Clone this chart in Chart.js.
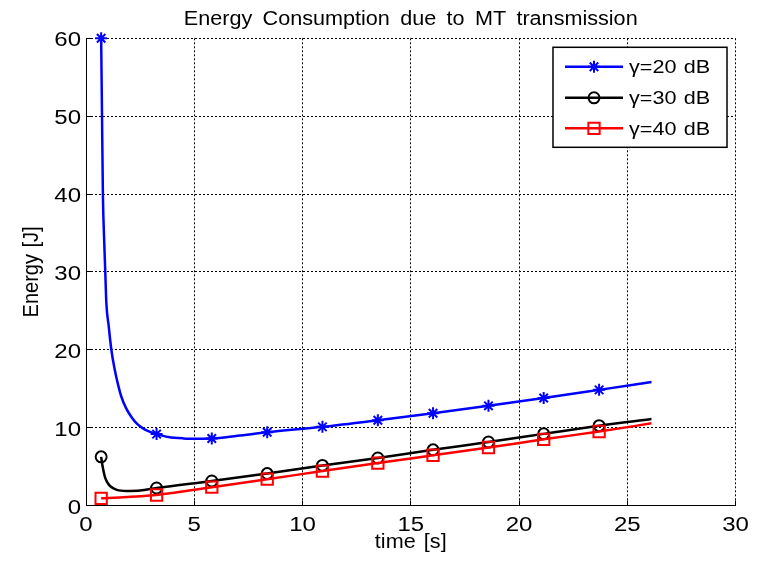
<!DOCTYPE html>
<html>
<head>
<meta charset="utf-8">
<title>Energy Consumption due to MT transmission</title>
<script src="https://cdn.jsdelivr.net/npm/chart.js@4/dist/chart.umd.min.js"></script>
<style>
  html, body { margin: 0; padding: 0; background: #ffffff; }
  canvas { display: block; }
</style>
</head>
<body>
<canvas id="energyChart" width="760" height="563"></canvas>
<script>
// ---- chart text ----
const chartTitle = 'Energy Consumption due to MT transmission';
const xAxisLabel = 'time [s]';
const yAxisLabel = 'Energy [J]';
const xTickValues = [0, 5, 10, 15, 20, 25, 30];
const yTickValues = [0, 10, 20, 30, 40, 50, 60];
const seriesNames = ['\u03B3=20 dB', '\u03B3=30 dB', '\u03B3=40 dB'];

// ---- sample times that carry a marker ----
const markerTimes = [0.70, 3.26, 5.81, 8.37, 10.92, 13.48, 16.03, 18.59, 21.14, 23.70];

// ---- gamma = 20 dB ----
const time20 = [0.70, 0.72, 0.74, 0.78, 0.84, 0.89, 0.94, 1.05, 1.17, 1.33, 1.50, 1.63, 1.85, 2.09, 2.35, 2.63, 2.96, 3.26, 3.80, 4.50, 5.20, 5.81, 7.00, 8.37, 10.92, 13.48, 16.03, 18.59, 21.14, 23.70, 26.12];
const energy20 = [60.0, 55.0, 50.0, 40.0, 34.0, 30.0, 26.0, 23.0, 20.0, 17.4, 15.3, 14.0, 12.5, 11.4, 10.5, 9.9, 9.45, 9.17, 8.8, 8.62, 8.58, 8.6, 8.95, 9.4, 10.1, 10.95, 11.85, 12.8, 13.8, 14.85, 15.85];

// ---- gamma = 30 dB ----
const time30 = [0.70, 0.75, 0.80, 0.88, 1.00, 1.11, 1.42, 1.88, 2.50, 3.26, 5.81, 8.37, 10.92, 13.48, 16.03, 18.59, 21.14, 23.70, 26.12];
const energy30 = [6.25, 5.3, 4.55, 3.6, 2.9, 2.5, 2.0, 1.86, 1.92, 2.25, 3.15, 4.1, 5.15, 6.1, 7.15, 8.15, 9.2, 10.25, 11.1];

// ---- gamma = 40 dB ----
const time40 = [0.70, 3.26, 5.81, 8.37, 10.92, 13.48, 16.03, 18.59, 21.14, 23.70, 26.12];
const energy40 = [0.92, 1.35, 2.35, 3.38, 4.42, 5.45, 6.45, 7.45, 8.5, 9.5, 10.55];

const FONT = "'Liberation Sans', Arial, Helvetica, sans-serif";

function toPoints(xs, ys) {
  return xs.map((t, i) => ({ x: t, y: ys[i] }));
}

function markerRadius(size) {
  return (c) => (c.raw && markerTimes.includes(c.raw.x)) ? size : 0;
}

// text helper: optional horizontal widening, spacing and rotation
function drawText(ctx, str, x, y, o) {
  ctx.save();
  ctx.font = o.font;
  ctx.fillStyle = '#000000';
  ctx.textAlign = o.align || 'left';
  ctx.textBaseline = o.baseline || 'alphabetic';
  if ('wordSpacing' in ctx) ctx.wordSpacing = (o.wordSpacing || 0) + 'px';
  if ('letterSpacing' in ctx) ctx.letterSpacing = (o.letterSpacing || 0) + 'px';
  ctx.translate(x, y);
  if (o.rotate) ctx.rotate(o.rotate);
  if (o.rotate) ctx.scale(1, o.sx || 1); else ctx.scale(o.sx || 1, 1);
  ctx.fillText(str, 0, 0);
  ctx.restore();
}

function alignPx(p) { return Math.round(p - 0.5) + 0.5; }

const seriesStyles = [
  { color: '#0000ff', pointStyle: 'star',   radius: 6   },
  { color: '#000000', pointStyle: 'circle', radius: 5.5 },
  { color: '#ff0000', pointStyle: 'rect',   radius: 8   }
];

function drawMarker(ctx, style, x, y) {
  ctx.save();
  ctx.strokeStyle = style.color;
  ctx.fillStyle = style.pointStyle === 'star' ? style.color : 'rgba(0,0,0,0)';
  ctx.lineWidth = 2;
  if (Chart.helpers && Chart.helpers.drawPoint) {
    Chart.helpers.drawPoint(ctx, { pointStyle: style.pointStyle, radius: style.radius, borderWidth: 2, rotation: 0 }, x, y);
  }
  ctx.restore();
}

const axesDecor = {
  id: 'axesDecor',
  afterDraw(chart) {
    const { ctx, chartArea: a, scales: { x, y } } = chart;

    // inward tick marks on the left and bottom axes
    ctx.save();
    ctx.strokeStyle = '#000000';
    ctx.lineWidth = 1;
    ctx.beginPath();
    xTickValues.forEach(v => {
      const px = alignPx(x.getPixelForValue(v));
      ctx.moveTo(px, a.bottom);
      ctx.lineTo(px, a.bottom - 5);
    });
    yTickValues.forEach(v => {
      const py = alignPx(y.getPixelForValue(v));
      ctx.moveTo(a.left, py);
      ctx.lineTo(a.left + 5, py);
    });
    ctx.stroke();
    ctx.restore();

    // tick labels
    const tickFont = '20px ' + FONT;
    xTickValues.forEach(v => {
      drawText(ctx, String(v), x.getPixelForValue(v), a.bottom + 25.5,
        { font: tickFont, align: 'center', baseline: 'alphabetic', sx: 1.2 });
    });
    yTickValues.forEach(v => {
      drawText(ctx, String(v), a.left - 5, y.getPixelForValue(v) + 2.5,
        { font: tickFont, align: 'right', baseline: 'middle', sx: 1.2 });
    });

    // axis titles
    const cx = (a.left + a.right) / 2;
    const cy = (a.top + a.bottom) / 2;
    drawText(ctx, xAxisLabel, cx, 548, { font: '20px ' + FONT, align: 'center', sx: 1.08, wordSpacing: 2 });
    drawText(ctx, yAxisLabel, 31.5, cy, { font: '20px ' + FONT, align: 'center', baseline: 'middle', rotate: -Math.PI / 2, sx: 1.1, wordSpacing: 1 });

    // chart title
    drawText(ctx, chartTitle, cx, 24.5, { font: '20px ' + FONT, align: 'center', sx: 1.08, wordSpacing: 4 });

    // legend box inside the plot area, top right
    const bw = 174, bh = 100;
    const bx = a.right - 8.5 - bw, by = a.top + 9;
    ctx.save();
    ctx.fillStyle = '#ffffff';
    ctx.fillRect(bx, by, bw, bh);
    ctx.strokeStyle = '#000000';
    ctx.lineWidth = 1.5;
    ctx.strokeRect(bx, by, bw, bh);
    ctx.restore();
    const rowOffsets = [19.5, 50.5, 81];
    seriesNames.forEach((name, i) => {
      const st = seriesStyles[i];
      const ry = by + rowOffsets[i];
      ctx.save();
      ctx.strokeStyle = st.color;
      ctx.lineWidth = 2.5;
      ctx.beginPath();
      ctx.moveTo(bx + 12, ry);
      ctx.lineTo(bx + 70, ry);
      ctx.stroke();
      ctx.restore();
      drawMarker(ctx, st, bx + 41, ry);
      drawText(ctx, name, bx + 76, ry + 6.5, { font: '18px ' + FONT, align: 'left', sx: 1.2, wordSpacing: 1 });
    });
  }
};

function makeDataset(i, xs, ys) {
  const st = seriesStyles[i];
  return {
    label: seriesNames[i],
    data: toPoints(xs, ys),
    borderColor: st.color,
    backgroundColor: st.color,
    borderWidth: 2.5,
    cubicInterpolationMode: 'monotone',
    pointStyle: st.pointStyle,
    pointRadius: markerRadius(st.radius),
    pointHoverRadius: 0,
    pointBorderWidth: 2,
    pointBorderColor: st.color,
    pointBackgroundColor: st.pointStyle === 'star' ? st.color : 'rgba(0,0,0,0)',
    clip: 12,
    order: 3 - i
  };
}

new Chart(document.getElementById('energyChart'), {
  type: 'line',
  data: {
    datasets: [
      makeDataset(0, time20, energy20),
      makeDataset(1, time30, energy30),
      makeDataset(2, time40, energy40)
    ]
  },
  options: {
    responsive: false,
    animation: false,
    devicePixelRatio: 1,
    events: [],
    layout: { padding: { left: 0, top: 38.3, right: 24.5, bottom: 0 } },
    plugins: {
      legend: { display: false },
      title: { display: false },
      tooltip: { enabled: false }
    },
    scales: {
      x: {
        type: 'linear',
        min: 0,
        max: 30,
        afterBuildTicks: (s) => { s.ticks = xTickValues.map(v => ({ value: v })); },
        afterFit: (s) => { s.height = 57.5; },
        ticks: { display: false },
        grid: { color: '#000000', lineWidth: 1, drawTicks: false },
        border: { display: true, color: '#000000', width: 1, dash: [2, 2] }
      },
      y: {
        type: 'linear',
        min: 0,
        max: 60,
        afterBuildTicks: (s) => { s.ticks = yTickValues.map(v => ({ value: v })); },
        afterFit: (s) => { s.width = 86; },
        ticks: { display: false },
        grid: { color: '#000000', lineWidth: 1, drawTicks: false },
        border: { display: true, color: '#000000', width: 1, dash: [2, 2] }
      }
    }
  },
  plugins: [axesDecor]
});
</script>
</body>
</html>
